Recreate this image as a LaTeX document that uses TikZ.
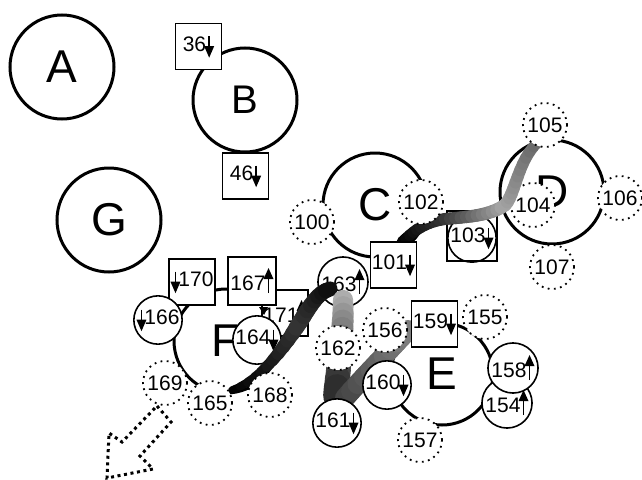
\documentclass[tikz,border=0pt]{standalone}
\usepackage{fontspec}
\setmainfont{Liberation Sans}
\newcommand\numfont{\fontsize{21}{21}\selectfont}
\newcommand\dnar{\tikz[baseline=0pt]{\draw[line width=1.7pt,black,solid] (0pt,15pt) -- (0pt,3pt); \fill[black] (-5pt,5pt) -- (5pt,5pt) -- (0pt,-6.5pt) -- cycle;}}
\newcommand\upar{\tikz[baseline=0pt]{\draw[line width=1.7pt,black,solid] (0pt,-3pt) -- (0pt,12pt); \fill[black] (-5pt,11pt) -- (5pt,11pt) -- (0pt,22pt) -- cycle;}}
\newcommand\dn[1]{#1\hspace{-2pt}\dnar}
\newcommand\up[1]{#1\hspace{-2pt}\upar}
\newcommand\rib[9]{%
\foreach \i in {1,...,#9}{%
 \pgfmathsetmacro\ta{(\i-1)/#9}%
 \pgfmathsetmacro\tb{\i/#9}%
 \pgfmathtruncatemacro\cc{#5+(#6-#5)*(\i-0.5)/#9}%
 \pgfmathsetmacro\ww{#7+(#8-#7)*(\i-0.5)/#9}%
 \path #1 .. controls #2 and #3 .. #4 coordinate[pos=\ta] (ra) coordinate[pos=\tb] (rb);%
 \draw[line width=\ww pt, black!\cc, line cap=round] (ra) -- (rb);%
}}
\begin{document}
\begin{tikzpicture}[x=1pt,y=-1pt,
  big/.style={circle, draw, line width=3pt, minimum size=104pt, inner sep=0pt, font=\fontsize{46}{46}\selectfont},
  sq/.style={draw, line width=1.5pt, fill=white, minimum size=46pt, inner sep=0pt, font=\numfont},
  sc/.style={circle, draw, line width=1.6pt, fill=white, minimum size=47pt, inner sep=0pt, font=\numfont},
  dc/.style={circle, draw, fill=white, line width=1.8pt, dash pattern=on 1.8pt off 4.4pt, minimum size=44pt, inner sep=0pt, font=\numfont},
  blockarrow/.style={line width=3pt, dash pattern=on 3pt off 3.6pt, line join=miter}]
\useasboundingbox (0,0) rectangle (642,479);
% big circles
\node[big] (nA) at (62,67) {A};
\node[big, font=\fontsize{40}{40}\selectfont] (nB) at (245,100) {B};
\node[big] (nG) at (109,220) {G};
\node[big] (nC) at (375,205) {C};
\node[big] (nD) at (552,192) {D};
\node[big, minimum size=102pt] (nE) at (442,374) {E};
\node[big] (nF) at (226,341) {F};
% layer below ribbons
\node[sq] (n171) at (285,313) {\up{171}};
\node[sq, minimum size=48pt] (n167) at (252,281) {\up{167}};
\fill[black] (259,307) -- (268,307) -- (264,315) -- cycle;
\node[sc] (n164) at (257,340) {\dn{164}};
\node[sc, minimum size=46pt] (n163) at (343,282) {\up{163}};
\node[sq, minimum size=50pt] (n103box) at (472,236) {};
\node[circle, draw, line width=1.6pt, minimum size=48pt, inner sep=0pt, font=\numfont] (n103) at (472,238) {\dn{103}};
\node[dc] (n104) at (533,205) {104};
% ribbons
\rib{(402,242)}{(415,230)}{(425,222)}{(445,219)}{100}{80}{11}{12}{10}
\rib{(445,219)}{(465,217)}{(490,216)}{(505,205)}{80}{35}{12}{13}{12}
\rib{(505,205)}{(515,195)}{(518,160)}{(538,142)}{35}{60}{13}{11}{12}
\rib{(232,390)}{(265,378)}{(285,345)}{(300,322)}{100}{80}{7}{16}{12}
\rib{(300,322)}{(310,306)}{(318,292)}{(330,289)}{80}{95}{16}{15}{8}
\rib{(343,300)}{(344,325)}{(339,360)}{(336,396)}{30}{85}{20}{26}{12}
\rib{(345,398)}{(365,375)}{(390,350)}{(408,330)}{75}{50}{20}{20}{10}
% top layer
\node[sq] (n36) at (198.5,46.5) {\dn{36}};
\node[sq] (n46) at (245.5,176) {\dn{46}};
\node[dc] (n100) at (312,222) {100};
\node[dc] (n102) at (421,202) {102};
\node[sq] (n101) at (393.5,265) {\dn{101}};
\node[dc] (n105) at (545,125) {105};
\node[dc] (n106) at (620,198) {106};
\node[dc] (n107) at (552,267) {107};
\node[sq] (n170) at (192,282) {\dnar\hspace{-2pt}170};
\node[sc] (n166) at (158,320) {\dnar\hspace{-2pt}166};
\node[dc] (n169) at (165,383) {169};
\node[dc] (n165) at (210,403) {165};
\node[dc] (n168) at (270,395) {168};
\node[dc] (n162) at (338,348) {162};
\node[dc] (n156) at (385,330) {156};
\node[dc] (n155) at (485,317) {155};
\node[sq] (n159) at (434.5,324) {\dn{159}};
\node[sc] (n160) at (387,385) {\dn{160}};
\node[sc] (n161) at (337,423) {\dn{161}};
\node[dc] (n157) at (420,440) {157};
\node[sc] (n154) at (507,403) {\up{154}};
\node[sc] (n158) at (513,368) {\up{158}};
% dotted block arrow
\draw[blockarrow] (157,406) -- (171,422) -- (140,456) -- (153,469) -- (107,478) -- (109,433) -- (122,442) -- cycle;
\end{tikzpicture}
\end{document}
